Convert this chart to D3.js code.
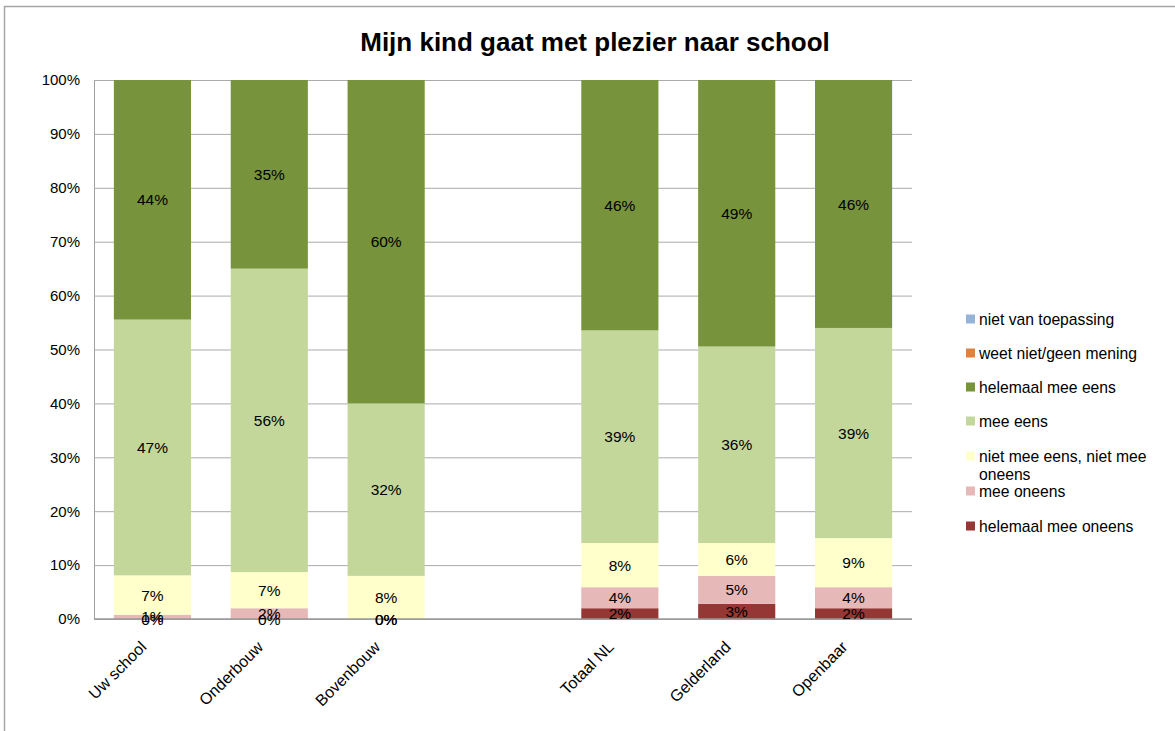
<!DOCTYPE html>
<html>
<head>
<meta charset="utf-8">
<script src="https://cdn.jsdelivr.net/npm/d3@7"></script>
<style>
  body { margin: 0; background: #fff; }
  text { font-family: "Liberation Sans", Arial, sans-serif; }
</style>
</head>
<body>
<div id="chart"></div>
<script>
// categories (the empty slot is the gap between the school and the benchmarks)
const slots = ["Uw school", "Onderbouw", "Bovenbouw", "", "Totaal NL", "Gelderland", "Openbaar"];
const categories = ["Uw school", "Onderbouw", "Bovenbouw", "Totaal NL", "Gelderland", "Openbaar"];

// series values, percent, stacked from bottom to top
const helemaalMeeOneens = [0, 0, 0, 2.0, 2.8, 2.0];
const meeOneens = [0.8, 2.0, 0, 3.9, 5.2, 3.9];
const neutraal = [7.3, 6.7, 8.0, 8.2, 6.1, 9.1];
const meeEens = [47.45, 56.3, 32.0, 39.45, 36.45, 39.0];
const helemaalMeeEens = [44.45, 35.0, 60.0, 46.45, 49.45, 46.0];
const weetNiet = [null, null, null, null, null, null];
const nietVanToepassing = [null, null, null, null, null, null];

const yTicks = [0, 10, 20, 30, 40, 50, 60, 70, 80, 90, 100];

const series = [
  { name: "helemaal mee oneens", values: helemaalMeeOneens, color: "#953735" },
  { name: "mee oneens", values: meeOneens, color: "#E6B9B8" },
  { name: "niet mee eens, niet mee oneens", values: neutraal, color: "#FFFFCC" },
  { name: "mee eens", values: meeEens, color: "#C4D79B" },
  { name: "helemaal mee eens", values: helemaalMeeEens, color: "#77933C" },
  { name: "weet niet/geen mening", values: weetNiet, color: "#E0823D" },
  { name: "niet van toepassing", values: nietVanToepassing, color: "#95B3D7" }
];

const w = 1175;
const h = 731;

const svg = d3.select('#chart')
              .append('svg')
              .attr('width', w)
              .attr('height', h);

// outer frame of the chart
svg.append('rect')
   .attr('x', 4.5)
   .attr('y', 6.5)
   .attr('width', 1200)
   .attr('height', 800)
   .attr('fill', 'none')
   .attr('stroke', '#a6a6a6')
   .attr('stroke-width', 1.5);

// title
svg.append('text')
   .attr('x', 595)
   .attr('y', 51)
   .attr('text-anchor', 'middle')
   .style('font-size', '26px')
   .style('font-weight', 'bold')
   .text('Mijn kind gaat met plezier naar school');

const x = d3.scaleBand()
            .domain(slots)
            .range([94, 912])
            .paddingInner(0.34)
            .paddingOuter(0.17);

const y = d3.scaleLinear()
            .domain([0, 100])
            .range([619, 80]);

// gridlines
const yAxis = d3.axisLeft(y)
                .tickValues(yTicks)
                .tickSize(-(912 - 94))
                .tickFormat(d => d + '%');

const gAxis = svg.append('g')
                 .attr('transform', 'translate(94,0)')
                 .call(yAxis);
gAxis.select('.domain').attr('stroke', '#a0a0a0');
gAxis.selectAll('.tick line').attr('stroke', '#ababab');
gAxis.selectAll('.tick text')
     .attr('x', -14)
     .attr('fill', '#000')
     .style('font-size', '15px');

// stacked bars
const stackData = categories.map((c, i) => {
  const row = { cat: c };
  series.forEach(s => { row[s.name] = s.values[i] == null ? 0 : s.values[i]; });
  return row;
});

const stacked = d3.stack().keys(series.map(s => s.name))(stackData);

const layers = svg.append('g')
  .selectAll('g')
  .data(stacked)
  .enter()
  .append('g')
  .attr('fill', (d, i) => series[i].color);

layers.selectAll('rect')
  .data(d => d)
  .enter()
  .append('rect')
  .attr('x', d => x(d.data.cat))
  .attr('y', d => y(d[1]))
  .attr('width', x.bandwidth())
  .attr('height', d => y(d[0]) - y(d[1]));

// baseline
svg.append('line')
   .attr('x1', 94)
   .attr('x2', 912)
   .attr('y1', y(0))
   .attr('y2', y(0))
   .attr('stroke', '#999')
   .attr('stroke-width', 1.5);

// data labels
const labels = svg.append('g');
stacked.forEach((layer, si) => {
  layer.forEach((d, i) => {
    if (series[si].values[i] == null) return;
    labels.append('text')
          .attr('x', x(d.data.cat) + x.bandwidth() / 2)
          .attr('y', y((d[0] + d[1]) / 2))
          .attr('dy', '0.36em')
          .attr('text-anchor', 'middle')
          .style('font-size', '15.5px')
          .text(Math.round(series[si].values[i]) + '%');
  });
});

// category labels, rotated
svg.append('g')
   .selectAll('text')
   .data(categories)
   .enter()
   .append('text')
   .attr('transform', d => `translate(${x(d) + x.bandwidth() / 2 - 5}, 648) rotate(-45)`)
   .attr('text-anchor', 'end')
   .style('font-size', '16px')
   .text(d => d);

// legend
const legendItems = series.slice().reverse();
const legendY = [319, 353, 387, 421, 456, 491, 526];
const legend = svg.append('g');
legendItems.forEach((s, i) => {
  legend.append('rect')
        .attr('x', 966)
        .attr('y', legendY[i] - 4.5)
        .attr('width', 9)
        .attr('height', 9)
        .attr('fill', s.color);
  const t = legend.append('text')
        .attr('x', 979)
        .attr('y', legendY[i])
        .attr('dy', '0.36em')
        .style('font-size', '15.7px');
  if (s.name === 'niet mee eens, niet mee oneens') {
    t.append('tspan').text('niet mee eens, niet mee');
    t.append('tspan').attr('x', 979).attr('dy', '1.2em').text('oneens');
  } else {
    t.text(s.name);
  }
});
</script>
</body>
</html>
